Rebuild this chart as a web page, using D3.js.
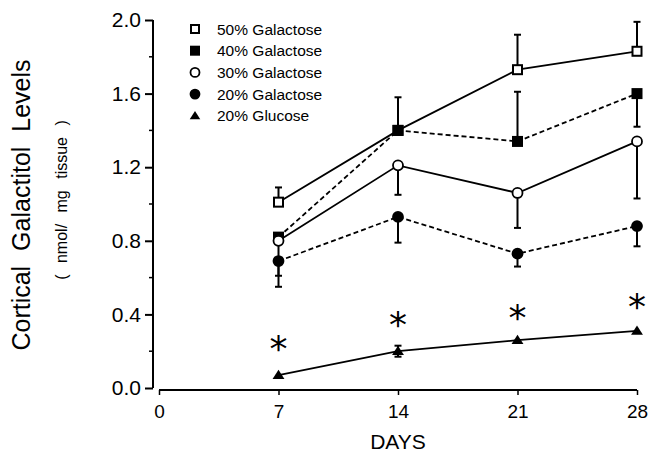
<!DOCTYPE html>
<html>
<head>
<meta charset="utf-8">
<script src="https://cdn.jsdelivr.net/npm/d3@7"></script>
<style>
  body { margin: 0; background: #fff; }
  svg { font-family: "Liberation Sans", Arial, sans-serif; }
</style>
</head>
<body>
<svg class="plot" width="649" height="462"></svg>
<script>

// data
var days = [7, 14, 21, 28]
var xTicks = [0, 7, 14, 21, 28]
var yTicks = [0.0, 0.4, 0.8, 1.2, 1.6, 2.0]
var yMinorTicks = [0.2, 0.6, 1.0, 1.4, 1.8]

var names = ["50% Galactose", "40% Galactose", "30% Galactose", "20% Galactose", "20% Glucose"]
var gal50 = [1.01, 1.40, 1.73, 1.83]
var gal40 = [0.82, 1.40, 1.34, 1.60]
var gal30 = [0.80, 1.21, 1.06, 1.34]
var gal20 = [0.69, 0.93, 0.73, 0.88]
var glu20 = [0.07, 0.20, 0.26, 0.31]

// ends of the error bars (null = none drawn)
var gal50Hi = [1.09, 1.58, 1.92, 1.99]
var gal50Lo = [null, null, null, null]
var gal40Hi = [null, null, 1.61, null]
var gal40Lo = [null, null, null, 1.42]
var gal30Hi = [null, null, null, null]
var gal30Lo = [0.61, 1.05, 0.87, 1.03]
var gal20Hi = [null, null, null, null]
var gal20Lo = [0.55, 0.79, 0.66, 0.77]
var glu20Hi = [null, 0.23, null, null]
var glu20Lo = [null, 0.17, null, null]

// significance asterisks
var starDays = [7, 14, 21, 28]
var starVals = [0.24, 0.37, 0.41, 0.47]

var series = [
  {name: names[0], values: gal50, hi: gal50Hi, lo: gal50Lo, symbol: "square", fill: "#fff", dash: null},
  {name: names[1], values: gal40, hi: gal40Hi, lo: gal40Lo, symbol: "square", fill: "#000", dash: "5,3"},
  {name: names[2], values: gal30, hi: gal30Hi, lo: gal30Lo, symbol: "circle", fill: "#fff", dash: null},
  {name: names[3], values: gal20, hi: gal20Hi, lo: gal20Lo, symbol: "circle", fill: "#000", dash: "5,3"},
  {name: names[4], values: glu20, hi: glu20Hi, lo: glu20Lo, symbol: "triangle", fill: "#000", dash: null}
]

var x = d3.scaleLinear().domain([0, 28]).range([159, 637])
var y = d3.scaleLinear().domain([0, 2]).range([388, 20])

var svg = d3.select(".plot")

// y axis
var yAxis = svg.append("g")
    .attr("transform", "translate(153,0)")
    .call(d3.axisLeft(y).tickValues(yTicks).tickFormat(d3.format(".1f")).tickSize(8).tickPadding(4))
yAxis.select(".domain").attr("stroke-width", 2).attr("d", "M0," + y(0) + "V" + y(2))
yAxis.selectAll(".tick line").attr("stroke-width", 2)
yAxis.selectAll(".tick text").attr("font-size", 21).attr("fill", "#000").attr("font-family", "Liberation Sans, Arial")

svg.append("g")
    .selectAll("line")
    .data(yMinorTicks)
    .enter()
    .append("line")
    .attr("x1", 149).attr("x2", 153)
    .attr("y1", d => y(d)).attr("y2", d => y(d))
    .attr("stroke", "#000").attr("stroke-width", 1.5)

// x axis
var xAxis = svg.append("g")
    .attr("transform", "translate(0,390)")
    .call(d3.axisBottom(x).tickValues(xTicks).tickSize(5).tickPadding(10))
xAxis.select(".domain").attr("stroke-width", 2).attr("d", "M" + x(0) + ",0H" + x(28))
xAxis.selectAll(".tick line").attr("stroke-width", 1.5)
xAxis.selectAll(".tick text").attr("font-size", 19).attr("fill", "#000").attr("font-family", "Liberation Sans, Arial")

// axis titles
svg.append("text")
    .attr("x", 398).attr("y", 449)
    .attr("text-anchor", "middle")
    .attr("font-size", 21)
    .text("DAYS")

svg.append("text")
    .attr("transform", "translate(30,205) rotate(-90)")
    .attr("text-anchor", "middle")
    .attr("font-size", 25)
    .attr("word-spacing", 8)
    .text("Cortical Galactitol Levels")

svg.append("text")
    .attr("transform", "translate(67,200) rotate(-90)")
    .attr("text-anchor", "middle")
    .attr("font-size", 16)
    .attr("word-spacing", 7)
    .text("( nmol/ mg tissue )")

function drawSymbol(g, type, fill, size) {
  if (type == "square") {
    g.append("rect")
      .attr("x", -size / 2).attr("y", -size / 2)
      .attr("width", size).attr("height", size)
      .attr("fill", fill).attr("stroke", "#000").attr("stroke-width", 2)
  } else if (type == "circle") {
    g.append("circle")
      .attr("r", size / 2 + 0.5)
      .attr("fill", fill).attr("stroke", "#000").attr("stroke-width", 1.8)
  } else {
    var s = size * 0.6
    g.append("path")
      .attr("d", "M0," + (-s) + "L" + (s * 1.1) + "," + (s * 0.7) + "L" + (-s * 1.1) + "," + (s * 0.7) + "Z")
      .attr("fill", fill)
  }
}

var line = d3.line()
    .x((d, i) => x(days[i]))
    .y(d => y(d))

// lines
series.forEach(function(s) {
  svg.append("path")
      .datum(s.values)
      .attr("d", line)
      .attr("fill", "none")
      .attr("stroke", "#000")
      .attr("stroke-width", 1.8)
      .attr("stroke-dasharray", s.dash)
})

// error bars
series.forEach(function(s) {
  [s.hi, s.lo].forEach(function(ends) {
    ends.forEach(function(e, i) {
      if (e == null) return
      var g = svg.append("g")
      g.append("line")
        .attr("x1", x(days[i])).attr("x2", x(days[i]))
        .attr("y1", y(s.values[i])).attr("y2", y(e))
        .attr("stroke", "#000").attr("stroke-width", 2)
      g.append("line")
        .attr("x1", x(days[i]) - 3.5).attr("x2", x(days[i]) + 3.5)
        .attr("y1", y(e)).attr("y2", y(e))
        .attr("stroke", "#000").attr("stroke-width", 2)
    })
  })
})

// markers
series.forEach(function(s) {
  s.values.forEach(function(v, i) {
    var g = svg.append("g").attr("transform", `translate(${x(days[i])}, ${y(v)})`)
    drawSymbol(g, s.symbol, s.fill, 9)
  })
})

// asterisks
svg.append("g")
    .selectAll("text")
    .data(starVals)
    .enter()
    .append("text")
    .attr("x", (d, i) => x(starDays[i]))
    .attr("y", d => y(d) + 17)
    .attr("text-anchor", "middle")
    .attr("font-size", 36)
    .attr("font-family", "DejaVu Sans")
    .text("*")

// legend
var legend = svg.append("g")
legend.selectAll("g")
    .data(series)
    .enter()
    .append("g")
    .attr("transform", (d, i) => `translate(195, ${29 + i * 21.7})`)
    .each(function(d) {
      var g = d3.select(this)
      drawSymbol(g, d.symbol, d.fill, 8)
      g.append("text")
        .attr("x", 22).attr("y", 5.5)
        .attr("font-size", 15.5)
        .text(d.name)
    })

</script>
</body>
</html>
